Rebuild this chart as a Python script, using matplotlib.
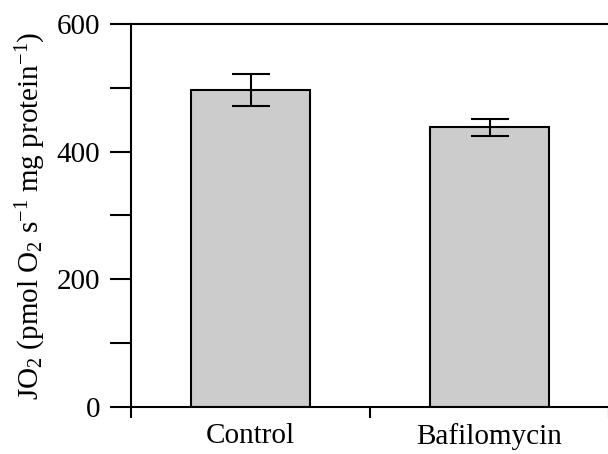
import matplotlib
matplotlib.use('Agg')
import matplotlib.pyplot as plt
import numpy as np

# data
groups = ['Control', 'Bafilomycin']
means = [496, 438]
errs = [25, 13]

plt.rcParams['font.family'] = 'Liberation Serif'
plt.rcParams['mathtext.fontset'] = 'custom'
plt.rcParams['mathtext.rm'] = 'Liberation Serif'
plt.rcParams['mathtext.it'] = 'Liberation Serif:italic'

fig = plt.figure(figsize=(6.08, 4.54), dpi=100)
ax = fig.add_axes([131/608, 1 - 406.7/454, 478/608, (406.7 - 24)/454])

x = np.arange(len(groups)) + 0.5
ax.bar(x, means, width=0.5, color='#cccccc', edgecolor='black', linewidth=1.5, zorder=2)
ax.errorbar(x, means, yerr=errs, fmt='none', ecolor='black', elinewidth=1.5,
            capsize=14, capthick=1.5, zorder=3)

ax.set_xlim(0, 2)
ax.set_ylim(0, 600)

ax.set_xticks([0, 1, 2])
ax.set_xticklabels([])
ax.set_xticks(x, minor=True)
ax.set_xticklabels(groups, minor=True, fontsize=21)
ax.tick_params(axis='x', which='major', direction='out', length=8, width=1.5)
ax.tick_params(axis='x', which='minor', length=0, pad=12)

ax.set_yticks([0, 200, 400, 600])
ax.set_yticks([100, 300, 500], minor=True)
ax.tick_params(axis='y', which='both', direction='out', length=15, width=1.5, labelsize=21, pad=7)

ax.spines['right'].set_visible(False)
for s in ['left', 'top', 'bottom']:
    ax.spines[s].set_linewidth(1.5)

ax.set_ylabel('JO$_2$ (pmol O$_2$ s$^{\\mathrm{-1}}$ mg protein$^{\\mathrm{-1}}$)',
              fontsize=21, labelpad=6)

fig.savefig('out.png', dpi=100)
